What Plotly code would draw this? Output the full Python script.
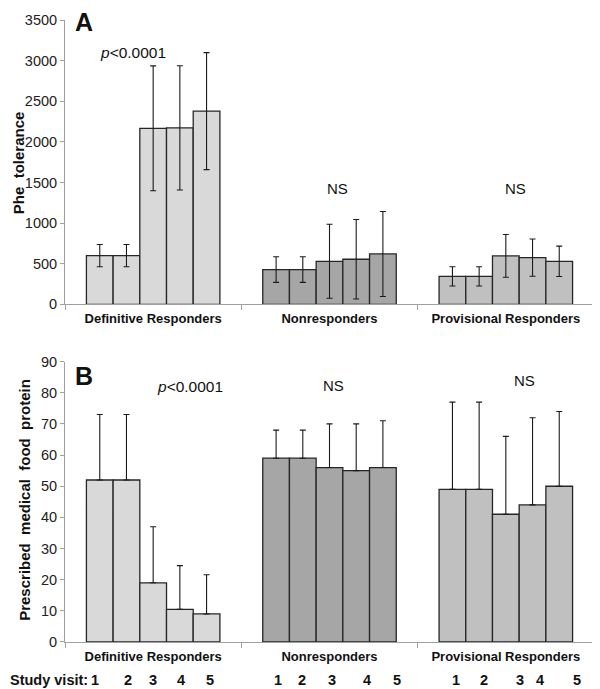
import plotly.graph_objects as go

# ---------------- data ----------------
groups = ["Definitive Responders", "Nonresponders", "Provisional Responders"]
visits = ["1", "2", "3", "4", "5"]

# Panel A: Phe tolerance (mean, symmetric error) per visit
phe_def = [600, 600, 2167, 2172, 2378]
phe_def_err = [137, 137, 768, 765, 720]
phe_non = [428, 428, 530, 555, 620]
phe_non_err = [157, 157, 455, 490, 523]
phe_pro = [344, 344, 596, 575, 530]
phe_pro_err = [118, 118, 263, 230, 187]

# Panel B: Prescribed medical food protein (mean, upper error) per visit
pmf_def = [52, 52, 19, 10.5, 9]
pmf_def_err = [21, 21, 18, 14, 12.6]
pmf_non = [59, 59, 56, 55, 56]
pmf_non_err = [9, 9, 14, 15, 15]
pmf_pro = [49, 49, 41, 44, 50]
pmf_pro_err = [28, 28, 25, 28, 24]

# ---------------- style ----------------
group_colors = ["#d9d9d9", "#a6a6a6", "#c0c0c0"]
FONT = "Liberation Sans, Arial, Helvetica, sans-serif"
OFF = 8  # page body margin
W, H = 600 - OFF, 689 - OFF
ML, MR, MT, MB = 65 - OFF, 6, 12 - OFF, 47
PW, PH = W - ML - MR, H - MT - MB
PLOT_BOTTOM_PAGE = OFF + H - MB


def px_x(px):
    return (px - OFF - ML) / PW


def px_y(py):
    return (PLOT_BOTTOM_PAGE - py) / PH


fig = go.Figure()

for i in range(5):
    fig.add_trace(go.Bar(
        x=groups, y=[phe_def[i], phe_non[i], phe_pro[i]],
        marker=dict(color=group_colors, line=dict(color="#262626", width=1.3)),
        error_y=dict(type="data", array=[phe_def_err[i], phe_non_err[i], phe_pro_err[i]],
                     color="#1a1a1a", thickness=1.1, width=3),
        xaxis="x", yaxis="y", showlegend=False, name="Visit " + visits[i],
    ))
    fig.add_trace(go.Bar(
        x=groups, y=[pmf_def[i], pmf_non[i], pmf_pro[i]],
        marker=dict(color=group_colors, line=dict(color="#262626", width=1.3)),
        error_y=dict(type="data", symmetric=False,
                     array=[pmf_def_err[i], pmf_non_err[i], pmf_pro_err[i]],
                     arrayminus=[0, 0, 0],
                     color="#1a1a1a", thickness=1.1, width=3),
        xaxis="x2", yaxis="y2", showlegend=False, name="Visit " + visits[i],
    ))

axis_line = "#a0a0a0"
xcommon = dict(type="category", range=[-0.5, 2.5], showline=True, linecolor=axis_line,
               linewidth=1, ticks="outside", tickson="boundaries", ticklen=5,
               tickcolor=axis_line, showgrid=False, zeroline=False,
               tickfont=dict(family=FONT, size=13, color="#111", weight="bold"),
               ticklabelstandoff=2, fixedrange=True)
ycommon = dict(showline=True, linecolor=axis_line, linewidth=1, ticks="outside",
               ticklen=4, tickcolor=axis_line, showgrid=False, zeroline=False,
               tickfont=dict(family=FONT, size=14.5, color="#222"))

fig.update_layout(
    width=W, height=H,
    margin=dict(l=ML, r=MR, t=MT, b=MB),
    paper_bgcolor="white", plot_bgcolor="white",
    barmode="group", bargap=0.243, bargroupgap=0,
    font=dict(family=FONT, color="#111"),
    xaxis=dict(domain=[0, 1], anchor="y", **xcommon),
    yaxis=dict(domain=[px_y(300), 1], anchor="x", range=[0, 3500], dtick=500, **ycommon),
    xaxis2=dict(domain=[0, 1], anchor="y2", **xcommon),
    yaxis2=dict(domain=[0, px_y(358)], anchor="x2", range=[0, 90], dtick=10, **ycommon),
)

ann = []


def text(x, y, s, size, bold=False, angle=0, xanchor="center"):
    ann.append(dict(x=px_x(x), y=px_y(y), xref="paper", yref="paper", text=s,
                    showarrow=False, textangle=angle, xanchor=xanchor, yanchor="middle",
                    font=dict(family=FONT, size=size, color="#111",
                              weight="bold" if bold else "normal")))


text(84, 14, "A", 25, bold=True)
text(84, 373, "B", 25, bold=True)
text(133, 45, "<i>p</i>&lt;0.0001", 15.5)
text(190, 383, "<i>p</i>&lt;0.0001", 15.5)
text(337, 183, "NS", 15)
text(515, 183, "NS", 15)
text(333, 382, "NS", 15)
text(524, 377, "NS", 15)
text(18, 157, "Phe  tolerance", 15, bold=True, angle=-90)
text(25, 498, "Prescribed  medical  food  protein", 15, bold=True, angle=-90)

# Study visit row
text(8, 680, "Study visit:", 14.5, bold=True, xanchor="left")
visit_label_px = [[95, 128, 153, 181, 210], [278, 302, 332, 367, 397], [456, 484, 520, 540, 577]]
for row in visit_label_px:
    for v, xp in zip(visits, row):
        text(xp, 680, v, 14.5, bold=True)

fig.update_layout(annotations=ann)
fig.write_html("out.html")
